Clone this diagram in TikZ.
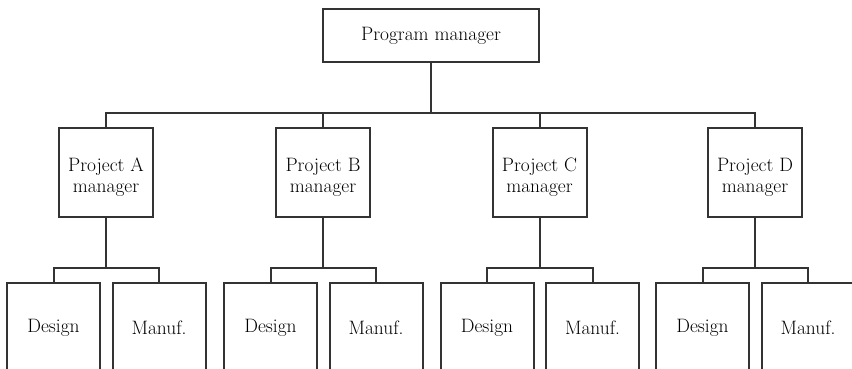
\documentclass[tikz,border=0pt]{standalone}
\newcommand\twoline[2]{\raisebox{-5pt}[\height][\depth]{\begin{tabular}{@{}c@{}}#1\\#2\end{tabular}}}
\begin{document}
\begin{tikzpicture}[x=1pt,y=-1pt,
  every node/.style={font=\fontsize{19.4}{21}\selectfont, text=black},
  box/.style={draw=black!80, line width=2pt, fill=white, inner sep=0pt, align=center},
  topbox/.style={box, minimum width=216pt, minimum height=53pt},
  mgrbox/.style={box, minimum width=94pt, minimum height=89pt},
  unitbox/.style={box, minimum width=93pt, minimum height=89pt},
  link/.style={draw=black!80, line width=2pt}]
  \useasboundingbox (0,0) rectangle (852,368);

  % program manager
  \node[topbox] (pm) at (431,35.5) {Program manager};

  % project managers and their design / manufacturing units
  \foreach \n/\c/\lbl in {a/106/A, b/323/B, c/539.5/C, d/755/D}{
    \node[mgrbox] (p\n) at (\c,172.5) {\twoline{Project \lbl}{manager}};
    \node[unitbox] (d\n) at (\c-52.5,327.5) {Design};
    \node[unitbox] (m\n) at (\c+53,327.5) {Manuf.};
    \draw[link] (d\n.north) -- ++(0,-14) coordinate (j\n) -| (m\n.north);
    \draw[link] (p\n.south) -- (p\n.south |- j\n);
  }

  % bus from the program manager to the project managers
  \coordinate (bus) at (431,113);
  \draw[link] (pa.north) -- (pa.north |- bus) -| (pd.north);
  \draw[link] (pm.south) -- (bus);
  \draw[link] (pb.north) -- (pb.north |- bus);
  \draw[link] (pc.north) -- (pc.north |- bus);
\end{tikzpicture}
\end{document}
